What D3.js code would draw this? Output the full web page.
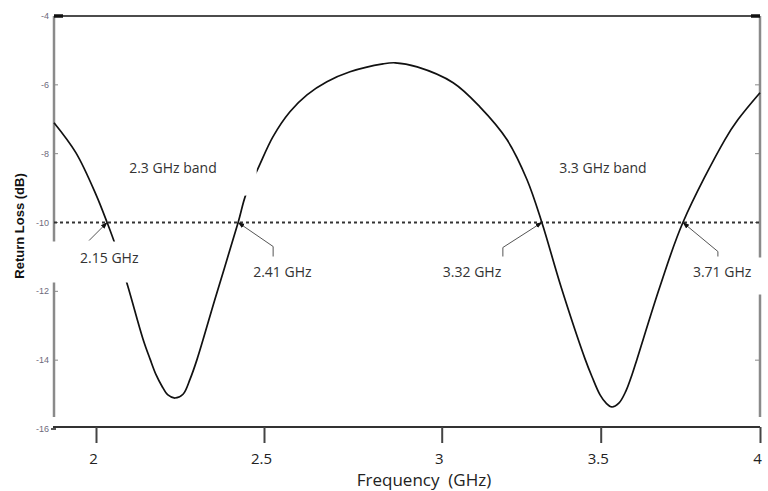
<!DOCTYPE html>
<html>
<head>
<meta charset="utf-8">
<script src="https://cdn.jsdelivr.net/npm/d3@7"></script>
<style>
  body { margin: 0; background: #fff; }
  svg { display: block; }
</style>
</head>
<body>
<div id="viz"></div>
<script>
// Return loss curve
const freq = [1.875, 1.940, 2.000, 2.033, 2.057, 2.095, 2.140, 2.161, 2.179, 2.196, 2.214, 2.235, 2.259,
  2.280, 2.301, 2.354, 2.423, 2.446, 2.483, 2.525, 2.573, 2.621, 2.677, 2.742, 2.835, 2.869, 2.931,
  3.036, 3.120, 3.205, 3.268, 3.315, 3.375, 3.451, 3.473, 3.498, 3.517, 3.535, 3.557, 3.579, 3.598,
  3.614, 3.686, 3.758, 3.890, 3.931, 4.0];
const loss = [-7.10, -7.97, -9.19, -10.0, -10.64, -11.86, -13.39, -13.97, -14.43, -14.75, -15.01, -15.10, -14.99,
  -14.55, -13.97, -12.23, -10.0, -9.19, -8.41, -7.51, -6.78, -6.29, -5.91, -5.62, -5.39, -5.36, -5.48,
  -5.94, -6.64, -7.59, -8.75, -10.0, -11.86, -13.97, -14.49, -15.01, -15.25, -15.36, -15.25, -14.90, -14.43,
  -13.97, -11.86, -10.0, -7.59, -7.01, -6.23];

const xTicks = [2, 2.5, 3, 3.5, 4];
const yTicks = [-4, -6, -8, -10, -12, -14, -16];
const threshold = -10;

// crossing markers (where the curve meets -10 dB in the picture) and their labels
const crossFreq = [2.033, 2.423, 3.315, 3.758];
const crossText = ["2.15 GHz", "2.41 GHz", "3.32 GHz", "3.71 GHz"];
const bandText = ["2.3 GHz band", "3.3 GHz band"];
const bandFreq = [2.229, 3.507];
const bandLoss = [-8.55, -8.55];

const w = 768, h = 491;
const mLeft = 54, mRight = 760, mTop = 16, mBottom = 429;

const svg = d3.select("#viz").append("svg").attr("width", w).attr("height", h);

// the original figure's x axis is a bit stretched, so the ticks are not evenly spaced
const x = d3.scaleLinear().domain([1.875, 2, 2.5, 3, 3.5, 4]).range([mLeft, 96, 264, 441.7, 600.7, mRight]);
const y = d3.scaleLinear().domain([-4, -16]).range([mTop, mBottom]);

// left and right grey frame lines
svg.append("line").attr("x1", mLeft).attr("x2", mLeft).attr("y1", mTop).attr("y2", 417)
  .attr("stroke", "#8a8a8a").attr("stroke-width", 2.5);
svg.append("line").attr("x1", mRight).attr("x2", mRight).attr("y1", mTop).attr("y2", 417)
  .attr("stroke", "#8a8a8a").attr("stroke-width", 2.5);

// small inner ticks on both sides
svg.append("g").selectAll("line").data(yTicks.slice(1, -1)).enter().append("line")
  .attr("x1", mLeft).attr("x2", mLeft + 4).attr("y1", d => y(d)).attr("y2", d => y(d))
  .attr("stroke", "#8a8a8a").attr("stroke-width", 1);
svg.append("g").selectAll("line").data(yTicks.slice(1, -1)).enter().append("line")
  .attr("x1", mRight - 5).attr("x2", mRight).attr("y1", d => y(d)).attr("y2", d => y(d))
  .attr("stroke", "#8a8a8a").attr("stroke-width", 1);

// top border
svg.append("line").attr("x1", mLeft).attr("x2", mRight).attr("y1", y(-4)).attr("y2", y(-4))
  .attr("stroke", "#111").attr("stroke-width", 1.6);
svg.append("line").attr("x1", mLeft).attr("x2", mLeft + 9).attr("y1", y(-4)).attr("y2", y(-4))
  .attr("stroke", "#111").attr("stroke-width", 3.5);
svg.append("line").attr("x1", mRight - 9).attr("x2", mRight).attr("y1", y(-4)).attr("y2", y(-4))
  .attr("stroke", "#111").attr("stroke-width", 3.5);

// y tick labels
svg.append("g").selectAll("text").data(yTicks).enter().append("text")
  .attr("x", mLeft - 5).attr("y", d => y(d)).attr("dy", "0.35em")
  .attr("text-anchor", "end")
  .style("font-family", "Liberation Sans, Arial, sans-serif").style("font-size", "9px")
  .style("fill", "#6e6a7c")
  .text(d => "-" + Math.abs(d));
svg.append("line").attr("x1", mLeft - 3).attr("x2", mLeft + 2).attr("y1", y(-16)).attr("y2", y(-16))
  .attr("stroke", "#222").attr("stroke-width", 1.5);

// x axis
const xAxis = d3.axisBottom(x).tickValues(xTicks).tickSize(16).tickPadding(10).tickFormat(d3.format(""));
const gx = svg.append("g").attr("transform", "translate(0," + 427 + ")").call(xAxis);
gx.select(".domain").attr("d", "M" + (mLeft - 1) + ",0H" + mRight).attr("stroke", "#333").attr("stroke-width", 2);
gx.selectAll(".tick line").attr("stroke", "#444").attr("stroke-width", 2);
gx.selectAll(".tick text").attr("dx", "-3")
  .style("font-family", "Open Sans, sans-serif").style("font-size", "15px").style("fill", "#222");

// -10 dB dotted line
svg.append("line").attr("x1", mLeft).attr("x2", mRight).attr("y1", y(threshold)).attr("y2", y(threshold))
  .attr("stroke", "#333").attr("stroke-width", 2).attr("stroke-dasharray", "3,3");

// the curve
const pts = freq.map((f, i) => [f, loss[i]]);
const line = d3.line().x(d => x(d[0])).y(d => y(d[1])).curve(d3.curveCatmullRom);
svg.append("path").datum(pts).attr("d", line)
  .attr("fill", "none").attr("stroke", "#111").attr("stroke-width", 1.7);

// label boxes (the original text boxes have white fill and hide bits of the plot)
const font = "Open Sans, sans-serif";
function label(g, tx, ty, txt, pad) {
  const t = g.append("text").attr("x", tx).attr("y", ty)
    .style("font-family", font).style("font-size", "14px").style("fill", "#333").text(txt);
  const b = t.node().getBBox();
  g.insert("rect", "text").attr("x", b.x - pad[0]).attr("y", b.y - pad[2])
    .attr("width", b.width + pad[0] + pad[1]).attr("height", b.height + pad[2] + pad[3])
    .attr("fill", "#fff");
}

// arrowheads
svg.append("defs").append("marker").attr("id", "arr")
  .attr("viewBox", "0 0 10 10").attr("refX", 9).attr("refY", 5)
  .attr("markerWidth", 7).attr("markerHeight", 7).attr("orient", "auto")
  .append("path").attr("d", "M0,1.5L10,5L0,8.5Z").attr("fill", "#111");

const legs = [
  [[-18, 18]],
  [[35, 24], [35, 34]],
  [[-39, 25], [-39, 34]],
  [[35, 29], [35, 34]]
];
const textOff = [[-27, 40], [15, 54], [-99, 54], [10, 54]];
const boxPad = [[32, 8, 6, 16], [8, 8, 6, 8], [8, 8, 6, 8], [8, 14, 4, 14]];

const ann = svg.append("g");
crossFreq.forEach((f, i) => {
  const tx = x(f), ty = y(threshold);
  const g = ann.append("g");
  label(g, tx + textOff[i][0], ty + textOff[i][1], crossText[i], boxPad[i]);
  const path = [[tx + legs[i][legs[i].length - 1][0], ty + legs[i][legs[i].length - 1][1]]];
  for (let k = legs[i].length - 2; k >= 0; k--) path.push([tx + legs[i][k][0], ty + legs[i][k][1]]);
  path.push([tx, ty]);
  g.append("path").attr("d", d3.line()(path)).attr("fill", "none")
    .attr("stroke", "#555").attr("stroke-width", 1).attr("marker-end", "url(#arr)");
});

const bandPad = [[8, 40, 4, 19], [8, 8, 4, 6]];
bandText.forEach((t, i) => {
  const g = ann.append("g");
  const tmp = g.append("text").style("font-family", font).style("font-size", "14px").text(t);
  const tw = tmp.node().getComputedTextLength();
  tmp.remove();
  label(g, x(bandFreq[i]) - tw / 2, y(bandLoss[i]), t, bandPad[i]);
});

// axis titles
svg.append("text").attr("transform", "translate(24," + 226 + ") rotate(-90)")
  .attr("text-anchor", "middle")
  .style("font-family", "Liberation Sans, Arial, sans-serif").style("font-size", "13px")
  .style("font-weight", "bold").style("fill", "#111")
  .text("Return Loss (dB)");
svg.append("text").attr("x", 424).attr("y", 486).attr("text-anchor", "middle")
  .style("font-family", font).style("font-size", "17px").style("fill", "#222")
  .style("white-space", "pre")
  .text("Frequency  (GHz)");
</script>
</body>
</html>
